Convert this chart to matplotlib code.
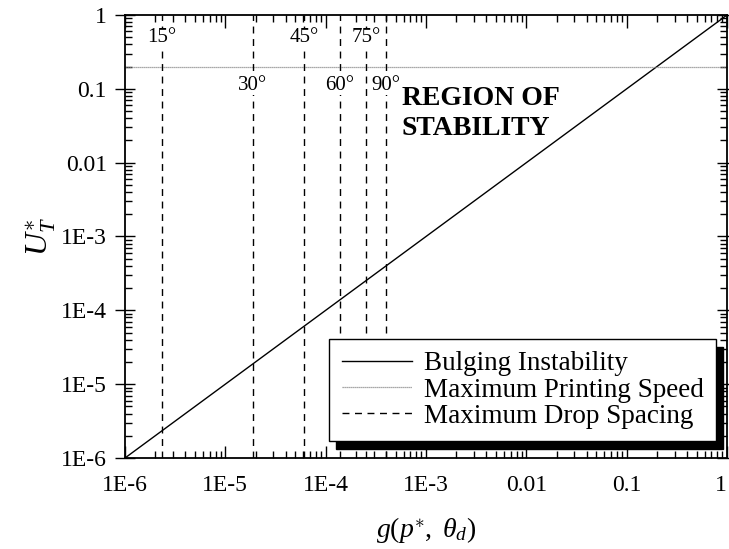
import numpy as np
import matplotlib.pyplot as plt
from matplotlib.ticker import FixedLocator, FixedFormatter, LogLocator, NullFormatter

plt.rcParams['font.family'] = ['Liberation Serif', 'DejaVu Serif']
plt.rcParams['mathtext.fontset'] = 'custom'
plt.rcParams['mathtext.rm'] = 'Liberation Serif'
plt.rcParams['mathtext.it'] = 'Liberation Serif:italic'

# bulging instability boundary, U_T* = g
bulge_x = [1e-6, 1.0]
bulge_y = [1e-6, 1.0]

# maximum printing speed
max_speed = 0.2

# maximum drop spacing for each contact angle
angles = ['15°', '30°', '45°', '60°', '75°', '90°']
spacing_x = [2.33e-6, 1.87e-5, 6.1e-5, 1.38e-4, 2.55e-4, 3.98e-4]
label_high = [True, False, True, False, True, False]

decades = [1e-6, 1e-5, 1e-4, 1e-3, 1e-2, 1e-1, 1.0]
decade_labels = ['1E-6', '1E-5', '1E-4', '1E-3', '0.01', '0.1', '1']

fig = plt.figure(figsize=(7.29, 5.49), dpi=100)
ax = fig.add_axes([0.1715, 0.1658, 0.8258, 0.8069])

ax.plot(bulge_x, bulge_y, color='black', lw=1.0, label='Bulging Instability')
ax.axhline(max_speed, color='0.55', lw=0.9, ls=(0, (1, 0.6)), label='Maximum Printing Speed')
for i, (x, a) in enumerate(zip(spacing_x, angles)):
    ax.axvline(x, color='black', lw=1.0, ls=(0, (5, 4)),
               label='Maximum Drop Spacing' if i == 0 else None)
    ty = 0.49 if label_high[i] else 0.112
    ax.text(x, ty, a, ha='center', va='center', fontsize=15,
            bbox=dict(facecolor='white', edgecolor='none', pad=0.5))

ax.text(5.7e-4, 0.108, 'REGION OF\nSTABILITY', fontsize=20, fontweight='bold',
        ha='left', va='top', linespacing=1.25)

ax.set_xscale('log')
ax.set_yscale('log')
ax.set_xlim(1e-6, 1)
ax.set_ylim(1e-6, 1)

for axis in (ax.xaxis, ax.yaxis):
    axis.set_major_locator(FixedLocator(decades))
    axis.set_major_formatter(FixedFormatter(decade_labels))
    axis.set_minor_locator(LogLocator(base=10, subs=np.arange(2, 10)))
    axis.set_minor_formatter(NullFormatter())

ax.tick_params(which='both', top=True, right=True, labelsize=17, width=1.0)
ax.tick_params(axis='x', which='major', direction='in', length=9, pad=12)
ax.tick_params(axis='y', which='major', direction='inout', length=14, pad=6)
ax.tick_params(which='minor', direction='in', length=5)
for s in ax.spines.values():
    s.set_linewidth(1.3)

# keep the last x label inside the figure
fig.canvas.draw()
ax.get_xticklabels()[-1].set_horizontalalignment('right')

ax.set_xlabel(r'$g(p^{\ast},\ \theta_d)$', fontsize=20, labelpad=14)
ax.set_ylabel(r'$U_T^{\ast}$', fontsize=23, labelpad=2)

leg = ax.legend(loc='lower right', bbox_to_anchor=(0.982, 0.038), borderaxespad=0,
                fontsize=19.5, handlelength=2.6, handletextpad=0.45, labelspacing=0.05,
                borderpad=0.45, fancybox=False, framealpha=1, edgecolor='black',
                shadow={'ox': 5, 'oy': -5.5, 'color': 'black', 'alpha': 1})
leg.get_frame().set_linewidth(1.0)

fig.savefig('out.png', dpi=100)
